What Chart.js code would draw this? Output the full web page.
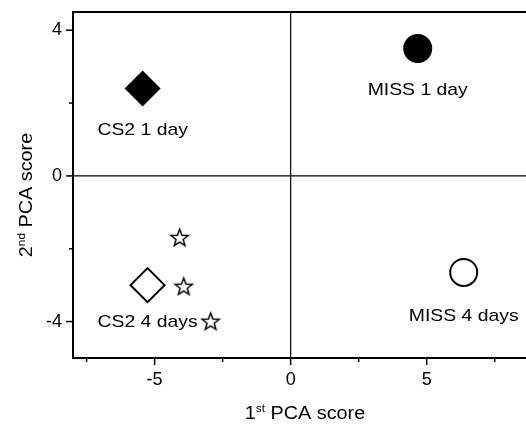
<!DOCTYPE html>
<html>
<head>
<meta charset="utf-8">
<script src="https://cdn.jsdelivr.net/npm/chart.js@4.4.1/dist/chart.umd.min.js"></script>
<style>
  html, body { margin: 0; padding: 0; background: #fff; }
  canvas { display: block; }
</style>
</head>
<body>
<canvas id="pca" width="526" height="424"></canvas>
<script>
// PCA scores
const groupNames = ['CS2 1 day', 'MISS 1 day', 'CS2 4 days', 'CS2 4 days (replicates)', 'MISS 4 days'];
const pc1Scores = [[-5.44], [4.67], [-5.26], [-4.08, -3.93, -2.94], [6.36]];
const pc2Scores = [[2.40], [3.50], [-3.00], [-1.69, -3.03, -3.99], [-2.65]];
const shownLabels = ['CS2 1 day', 'MISS 1 day', 'CS2 4 days', '', 'MISS 4 days'];

const xTickValues = [-5, 0, 5];
const xMinorTicks = [-7.5, -2.5, 2.5, 7.5];
const yTickValues = [-4, 0, 4];
const yMinorTicks = [-2, 2];

const FONT = '"Liberation Sans", Arial, sans-serif';

function makeStar(outer, inner, lw) {
    const size = Math.ceil(outer * 2 + lw * 2 + 2);
    const c = document.createElement('canvas');
    c.width = c.height = size;
    const g = c.getContext('2d');
    g.translate(size / 2, size / 2 + 0.8);
    g.beginPath();
    for (let i = 0; i < 10; i++) {
        const r = i % 2 ? inner : outer;
        const a = -Math.PI / 2 + i * Math.PI / 5;
        g.lineTo(r * Math.cos(a), r * Math.sin(a));
    }
    g.closePath();
    g.fillStyle = '#fff';
    g.fill();
    g.lineWidth = lw;
    g.strokeStyle = '#000';
    g.stroke();
    return c;
}

// marker look for each group, same order as groupNames
const markerStyles = [
    { pointStyle: 'rectRot', radius: 18, bg: '#000', border: 0, dy: 40 },
    { pointStyle: 'circle', radius: 14.5, bg: '#000', border: 0, dy: 40 },
    { pointStyle: 'rectRot', radius: 17, bg: '#fff', border: 2, dy: 36 },
    { pointStyle: makeStar(9, 3.8, 1.5), radius: 9, bg: '#fff', border: 0, dy: 0 },
    { pointStyle: 'circle', radius: 13.5, bg: '#fff', border: 2, dy: 43 }
];

// text with optional superscript parts, centred on (x, y)
function drawRich(ctx, parts, x, y, size, stretch, angle) {
    ctx.save();
    ctx.translate(x, y);
    if (angle) ctx.rotate(angle);
    ctx.scale(stretch, 1);
    ctx.fillStyle = '#000';
    ctx.textBaseline = 'alphabetic';
    ctx.textAlign = 'left';
    let total = 0;
    parts.forEach(p => {
        ctx.font = (p.sup ? size * 0.6 : size) + 'px ' + FONT;
        p.w = ctx.measureText(p.t).width;
        total += p.w;
    });
    let cx = -total / 2;
    const base = size * 0.358;
    parts.forEach(p => {
        ctx.font = (p.sup ? size * 0.6 : size) + 'px ' + FONT;
        ctx.fillText(p.t, cx, base - (p.sup ? size * 0.4 : 0));
        cx += p.w;
    });
    ctx.restore();
}

const framePlugin = {
    id: 'frame',
    beforeDatasetsDraw(chart) {
        const { ctx, chartArea: a, scales: { x, y } } = chart;
        const seg = (x1, y1, x2, y2) => {
            ctx.beginPath();
            ctx.moveTo(x1, y1);
            ctx.lineTo(x2, y2);
            ctx.stroke();
        };
        ctx.save();
        ctx.strokeStyle = '#000';
        ctx.lineWidth = 1.2;
        const x0 = x.getPixelForValue(0);
        const y0 = y.getPixelForValue(0);
        seg(x0, a.top, x0, a.bottom);
        seg(a.left, y0, a.right, y0);

        ctx.lineWidth = 2;
        ctx.beginPath();
        ctx.moveTo(a.right + 2, a.top);
        ctx.lineTo(a.left, a.top);
        ctx.lineTo(a.left, a.bottom);
        ctx.lineTo(a.right + 2, a.bottom);
        ctx.stroke();

        ctx.lineWidth = 1.5;
        xTickValues.forEach(v => { const p = x.getPixelForValue(v); seg(p, a.bottom, p, a.bottom + 7); });
        xMinorTicks.forEach(v => { const p = x.getPixelForValue(v); seg(p, a.bottom, p, a.bottom + 4); });
        yTickValues.forEach(v => { const p = y.getPixelForValue(v); seg(a.left, p, a.left - 7, p); });
        yMinorTicks.forEach(v => { const p = y.getPixelForValue(v); seg(a.left, p, a.left - 4, p); });
        ctx.restore();
    },
    afterDraw(chart) {
        const ctx = chart.ctx;
        drawRich(ctx, [{ t: '1' }, { t: 'st', sup: true }, { t: ' PCA score' }], 305, 413, 18, 1.1, 0);
        drawRich(ctx, [{ t: '2' }, { t: 'nd', sup: true }, { t: ' PCA score' }], 26, 195, 18, 1.1, -Math.PI / 2);
    }
};

const labelPlugin = {
    id: 'groupLabels',
    afterDatasetsDraw(chart) {
        chart.data.datasets.forEach((ds, i) => {
            if (!ds.tag) return;
            const pt = chart.getDatasetMeta(i).data[0];
            drawRich(chart.ctx, [{ t: ds.tag }], pt.x, pt.y + ds.tagDy, 17, 1.14, 0);
        });
    }
};

const datasets = groupNames.map((name, i) => ({
    label: name,
    tag: shownLabels[i],
    tagDy: markerStyles[i].dy,
    data: pc1Scores[i].map((v, j) => ({ x: v, y: pc2Scores[i][j] })),
    pointStyle: markerStyles[i].pointStyle,
    pointRadius: markerStyles[i].radius,
    pointBackgroundColor: markerStyles[i].bg,
    pointBorderColor: '#000',
    pointBorderWidth: markerStyles[i].border,
    showLine: false
}));

new Chart(document.getElementById('pca'), {
    type: 'scatter',
    data: { datasets },
    options: {
        responsive: false,
        animation: false,
        events: [],
        layout: { autoPadding: false, padding: { top: 12, right: 0, bottom: 0, left: 0 } },
        plugins: {
            legend: { display: false },
            tooltip: { enabled: false }
        },
        scales: {
            x: {
                type: 'linear',
                min: -8,
                max: 8.65,
                grid: { display: false, drawTicks: false },
                border: { display: false },
                afterBuildTicks: (s) => { s.ticks = xTickValues.map(v => ({ value: v })); },
                afterFit: (s) => {
                    s.height = 66;
                    s.paddingLeft = 0;
                    s.paddingRight = 0;
                },
                ticks: {
                    color: '#000',
                    padding: 11,
                    maxRotation: 0,
                    font: { family: FONT, size: 18 }
                }
            },
            y: {
                type: 'linear',
                min: -5,
                max: 4.5,
                grid: { display: false, drawTicks: false },
                border: { display: false },
                afterBuildTicks: (s) => { s.ticks = yTickValues.map(v => ({ value: v })); },
                afterFit: (s) => {
                    s.width = 73;
                    s.paddingTop = 0;
                    s.paddingBottom = 0;
                },
                ticks: {
                    color: '#000',
                    padding: 11,
                    font: { family: FONT, size: 18 }
                }
            }
        }
    },
    plugins: [framePlugin, labelPlugin]
});
</script>
</body>
</html>
